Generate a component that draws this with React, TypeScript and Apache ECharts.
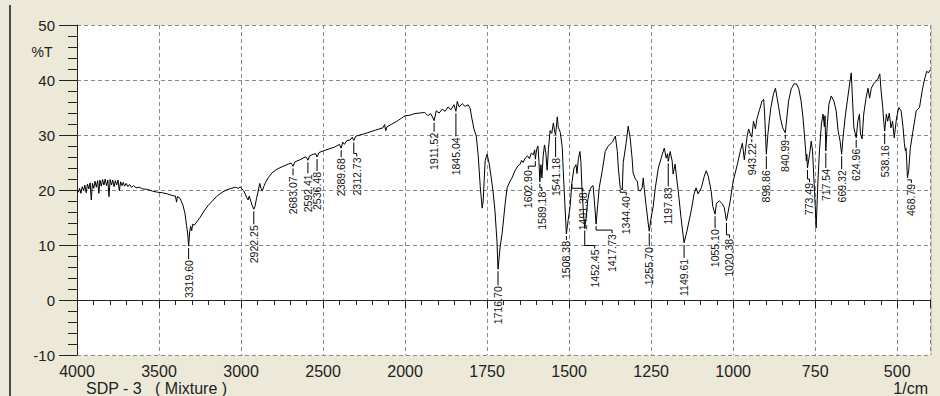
import React, { useEffect, useRef } from "react";
import * as echarts from "echarts";

// IR spectrum of SDP-3 (mixture): [wavenumber (1/cm), transmittance (%T)]
const range4000to3000: [number, number][] = [
  [4000, 20.0], [3992, 19.6], [3984, 20.3], [3976, 19.4], [3968, 20.6], [3960, 19.9],
  [3952, 20.9], [3944, 19.5], [3936, 21.1], [3928, 20.2], [3920, 21.3], [3913, 18.2],
  [3906, 21.2], [3898, 20.3], [3890, 21.6], [3882, 20.5], [3874, 21.7], [3867, 19.4],
  [3860, 21.8], [3852, 20.7], [3844, 21.9], [3836, 20.9], [3828, 22.0], [3820, 20.8],
  [3812, 21.8], [3805, 18.8], [3798, 21.9], [3790, 20.9], [3782, 21.8], [3774, 20.6],
  [3766, 21.7], [3758, 20.9], [3750, 21.8], [3742, 19.9], [3734, 21.5], [3726, 20.8],
  [3718, 21.4], [3710, 20.7], [3700, 21.2], [3690, 20.6], [3680, 21.0], [3668, 20.5],
  [3655, 20.8], [3640, 20.4], [3620, 20.5], [3600, 20.2], [3570, 20.1], [3540, 19.8],
  [3510, 19.6], [3480, 19.5], [3450, 19.3], [3420, 19.0], [3400, 18.9], [3393, 17.8],
  [3388, 18.8], [3372, 18.5], [3355, 17.3], [3342, 15.8], [3332, 13.5], [3325, 12.0],
  [3319.6, 9.8], [3313, 12.4], [3307, 13.4], [3301, 12.6], [3294, 13.8], [3285, 13.6],
  [3270, 14.2], [3250, 15.0], [3225, 16.2], [3200, 17.2], [3175, 18.0], [3150, 18.8],
  [3120, 19.5], [3090, 20.0], [3060, 20.3], [3035, 20.5], [3015, 20.3], [3005, 20.6],
];

const range3000to2000: [number, number][] = [
  [2995, 20.2], [2985, 19.9], [2975, 19.3], [2965, 18.6], [2957, 18.2], [2950, 18.9],
  [2940, 17.9], [2932, 17.2], [2922.25, 16.5], [2915, 17.0], [2906, 18.4], [2897, 19.6],
  [2886, 21.2], [2878, 20.3], [2870, 19.8], [2862, 20.6], [2850, 21.4], [2835, 22.2],
  [2812, 23.1], [2780, 23.8], [2745, 24.3], [2713, 24.7], [2695, 24.9], [2683.07, 24.3],
  [2672, 25.1], [2640, 25.5], [2610, 26.0], [2600, 25.9], [2592.41, 25.4], [2582, 26.2],
  [2560, 26.5], [2545, 26.6], [2536.48, 26.0], [2525, 26.8], [2500, 27.1], [2470, 27.4],
  [2430, 27.8], [2400, 28.3], [2389.68, 27.6], [2380, 28.7], [2370, 28.3], [2355, 29.0],
  [2335, 29.1], [2322, 29.6], [2312.73, 29.0], [2300, 29.8], [2275, 30.0], [2230, 30.4],
  [2180, 30.9], [2135, 31.3], [2125, 31.9], [2118, 30.8], [2110, 31.5], [2080, 32.0],
  [2050, 32.5], [2030, 32.9], [2010, 33.3],
];

const range2000to1500: [number, number][] = [
  [2000, 33.5], [1985, 33.6], [1970, 33.9], [1954, 34.0], [1940, 34.1], [1930, 33.5],
  [1922, 33.9], [1915, 33.1], [1911.52, 32.6], [1905, 34.4], [1896, 34.0], [1887, 34.7],
  [1878, 34.3], [1869, 35.1], [1860, 34.6], [1851, 35.5], [1845.04, 34.3], [1841, 36.1],
  [1835, 35.1], [1826, 35.7], [1817, 35.2], [1808, 35.5], [1802, 34.9], [1796, 32.9],
  [1790, 31.1], [1783, 29.8], [1777, 26.2], [1771, 20.7], [1765, 16.7], [1762, 18.0],
  [1756, 25.3], [1750, 26.5], [1744, 24.9], [1738, 22.5], [1732, 19.8], [1726, 16.2],
  [1720, 10.7], [1716.7, 5.6], [1710, 9.8], [1704, 12.2], [1695, 17.5], [1689, 20.4],
  [1680, 21.6], [1674, 22.2], [1665, 23.5], [1656, 24.4], [1649, 24.7], [1645, 25.4],
  [1640, 25.0], [1634, 25.8], [1627, 26.2], [1621, 25.7], [1615, 26.7], [1609, 26.4],
  [1605, 27.3], [1602.9, 25.6], [1599, 27.4], [1595, 28.0], [1592, 25.2], [1589.18, 21.5],
  [1586, 24.6], [1583, 22.2], [1579, 26.2], [1575, 28.2], [1571, 26.8], [1567, 23.6],
  [1563, 27.4], [1558, 30.8], [1553, 30.3], [1548, 32.2], [1544, 30.6], [1541.18, 30.0],
  [1536, 33.3], [1533, 31.4], [1527, 30.5], [1521, 27.8], [1518, 23.6], [1513, 17.5],
  [1508.38, 12.0], [1503, 14.5],
];

const range1500to1000: [number, number][] = [
  [1497, 17.0], [1491.38, 21.4], [1485, 24.0], [1479, 24.6], [1476, 23.0], [1472, 25.6],
  [1467, 27.0], [1464, 25.0], [1461, 20.5], [1456, 15.5], [1452.45, 13.0], [1448, 15.0],
  [1443, 18.2], [1438, 19.8], [1432, 20.6], [1427, 20.8], [1423, 18.0], [1417.73, 13.8],
  [1413, 17.2], [1408, 20.5], [1399, 23.5], [1390, 27.0], [1381, 28.0], [1368, 28.7],
  [1359, 29.8], [1353, 27.0], [1350, 24.0], [1344.4, 20.5], [1338, 20.0], [1335, 25.0],
  [1326, 28.6], [1320, 31.6], [1314, 29.5], [1308, 25.8], [1305, 23.1], [1298, 22.0],
  [1292, 21.6], [1289, 20.0], [1283, 19.8], [1277, 20.5], [1274, 22.2], [1271, 20.2],
  [1265, 17.0], [1259, 14.0], [1255.7, 12.5], [1250, 15.0], [1244, 16.9], [1237, 20.5],
  [1228, 24.0], [1216, 26.5], [1210, 27.6], [1204, 25.8], [1200, 26.6], [1197.83, 25.2],
  [1192, 27.0], [1186, 25.3], [1183, 22.9], [1177, 24.7], [1171, 21.6], [1165, 18.5],
  [1159, 15.0], [1153, 12.0], [1149.61, 10.4], [1141, 12.5], [1128, 16.2], [1119, 19.3],
  [1113, 20.4], [1107, 19.3], [1097, 20.4], [1088, 22.5], [1082, 23.5], [1076, 22.5],
  [1067, 19.8], [1062, 17.0], [1055.1, 15.6], [1051, 17.6], [1042, 18.0], [1033, 17.5],
  [1027, 16.8], [1020.38, 14.4], [1009, 18.0],
];

const range1000to400: [number, number][] = [
  [1000, 21.6], [987, 24.7], [978, 27.1], [972, 28.5], [969, 27.1], [966, 25.5],
  [958, 29.5], [953, 31.1], [948, 30.2], [943.22, 29.6], [938, 32.5], [932, 31.1],
  [927, 33.1], [919, 34.7], [912, 36.2], [907, 36.5], [904, 33.8], [901, 29.5],
  [898.86, 26.5], [894, 30.2], [890, 32.5], [885, 35.0], [877, 37.5], [871, 38.5],
  [866, 36.7], [861, 35.0], [856, 33.1], [849, 31.3], [840.99, 30.4], [838, 32.2],
  [831, 36.2], [823, 38.4], [814, 39.3], [807, 39.3], [800, 38.4], [793, 36.2],
  [787, 33.1], [783, 30.2], [779, 27.1], [777, 25.3], [775.5, 26.5], [773.49, 24.0],
  [767, 26.5], [762, 28.9], [758, 27.1], [752, 19.8], [747, 13.1], [742, 21.1],
  [737, 27.1], [731, 32.0], [726, 33.8], [722, 31.5], [720, 33.5], [717.54, 27.1],
  [713, 32.0], [708, 35.6], [701, 37.1], [693, 36.2], [686, 34.4], [680, 30.7],
  [674, 28.9], [669.32, 26.5], [665, 29.5], [659, 33.1], [652, 36.2], [645, 39.3],
  [640, 41.3], [637, 37.5], [632, 31.3], [624.96, 29.5], [620, 32.5], [615, 33.8],
  [612, 30.2], [607, 29.3], [602, 33.8], [595, 36.7], [589, 38.5], [584, 36.7],
  [579, 38.5], [572, 39.3], [564, 39.8], [559, 40.2], [553, 41.1], [549, 38.0],
  [544, 35.0], [541, 32.5], [538.16, 30.7], [533, 33.8], [529, 32.5], [524, 34.0],
  [519, 31.3], [514, 32.5], [509, 29.5], [502, 33.1], [495, 35.0], [488, 34.4],
  [482, 31.3], [478, 28.4], [475, 27.1], [473, 27.6], [471, 25.3], [468.79, 22.2],
  [465, 23.5], [460, 27.6], [452, 30.7], [442, 34.4], [432, 35.0], [424, 38.0],
  [418, 39.8], [410, 41.6], [405, 41.3], [400, 41.8],
];

// Picked peaks (1/cm)
const peakWavenumbers = [
  3319.6, 2922.25, 2683.07, 2592.41, 2536.48, 2389.68, 2312.73, 1911.52, 1845.04,
  1716.7, 1602.9, 1589.18, 1541.18, 1508.38, 1491.38, 1452.45, 1417.73, 1344.4,
  1255.7, 1197.83, 1149.61, 1055.1, 1020.38, 943.22, 898.86, 840.99, 773.49,
  717.54, 669.32, 624.96, 538.16, 468.79,
];

// Leader length and sideways shift (px) of each peak label
const peakLabelLayout: [number, number][] = [
  [13, 0], [15, 0], [9, 0], [13, 0], [14, 0], [9, 0], [16, 3], [11, 0], [25, 0],
  [16, 0], [10, -7], [9, 2], [22, 0], [6, 0], [9, 11], [20, 10], [9, 16], [8, 6],
  [15, 0], [25, 0], [15, 0], [14, 0], [17, 3], [5, 0], [15, 0], [6, 0], [14, 2],
  [17, 0], [15, 0], [10, 0], [13, 0], [5, 4],
];

const yTicks = { min: -10, max: 50, step: 10 };

// Wavenumber axis: 4000–2000 drawn at half the scale of 2000–400
const toAxis = (w: number) => (w >= 2000 ? (4000 - w) / 2 : 1000 + (2000 - w));
const fromAxis = (u: number) => (u <= 1000 ? 4000 - 2 * u : 2000 - (u - 1000));

const FONT = '"Liberation Sans", Arial, sans-serif';

export default function App() {
  const ref = useRef<HTMLDivElement>(null);

  useEffect(() => {
    if (!ref.current) return;
    const chart = echarts.init(ref.current, undefined, { renderer: "svg" });

    const spectrum = [
      ...range4000to3000,
      ...range3000to2000,
      ...range2000to1500,
      ...range1500to1000,
      ...range1000to400,
    ];
    const lineData = spectrum.map(([w, t]) => [toAxis(w), t]);
    const lookup = new Map(spectrum.map(([w, t]) => [w, t]));
    const peakData = peakWavenumbers.map((w) => [toAxis(w), lookup.get(w) ?? 0]);
    const peakText = peakWavenumbers.map((w) => w.toFixed(2));

    chart.setOption({
      animation: false,
      backgroundColor: "#ECE9D8",
      grid: {
        left: 77,
        right: 10,
        top: 25,
        bottom: 41,
        show: true,
        backgroundColor: "#ffffff",
        borderWidth: 0,
      },
      xAxis: {
        type: "value",
        min: 0,
        max: 2600,
        interval: 250,
        axisLine: { show: true, lineStyle: { color: "#222", width: 1 } },
        axisTick: { show: true, length: 8, lineStyle: { color: "#222" } },
        minorTick: { show: true, splitNumber: 5, length: 5, lineStyle: { color: "#222" } },
        axisLabel: {
          color: "#222",
          fontSize: 16,
          lineHeight: 13,
          fontFamily: FONT,
          margin: 10,
          showMaxLabel: false,
          formatter: (v: number) => (v >= 2600 ? "" : String(Math.round(fromAxis(v)))),
        },
        splitLine: {
          show: true,
          lineStyle: { color: "#8a8a8a", type: [4, 3], width: 1 },
        },
      },
      yAxis: {
        type: "value",
        min: yTicks.min,
        max: yTicks.max,
        interval: yTicks.step,
        axisLine: { show: true, lineStyle: { color: "#222", width: 1 } },
        axisTick: { show: true, length: 18, lineStyle: { color: "#222" } },
        minorTick: { show: true, splitNumber: 5, length: 9, lineStyle: { color: "#222" } },
        axisLabel: { color: "#222", fontSize: 15, fontFamily: FONT, margin: 22 },
        splitLine: {
          show: true,
          lineStyle: { color: "#8a8a8a", type: [4, 3], width: 1 },
        },
      },
      series: [
        {
          type: "line",
          data: lineData,
          showSymbol: false,
          symbol: "none",
          silent: true,
          lineStyle: { color: "#000", width: 1 },
          z: 3,
        },
        {
          type: "custom",
          coordinateSystem: "cartesian2d",
          data: peakData,
          silent: true,
          z: 4,
          renderItem: (params: any, api: any) => {
            const i = params.dataIndex;
            const [x, y] = api.coord([api.value(0), api.value(1)]);
            const [len, dx] = peakLabelLayout[i];
            const top = y + len;
            const pts =
              dx === 0
                ? [[x, y + 2], [x, top]]
                : [[x, y + 2], [x, top - 3], [x + dx, top - 3], [x + dx, top]];
            return {
              type: "group",
              children: [
                {
                  type: "polyline",
                  shape: { points: pts },
                  style: { stroke: "#000", lineWidth: 1, fill: null },
                },
                {
                  type: "text",
                  x: x + dx,
                  y: top + 1,
                  rotation: Math.PI / 2,
                  style: {
                    text: peakText[i],
                    fill: "#111",
                    font: `10.5px ${FONT}`,
                    align: "right",
                    verticalAlign: "middle",
                  },
                },
              ],
            };
          },
        },
      ],
      graphic: [
        {
          type: "line",
          shape: { x1: 10, y1: 5, x2: 10, y2: 396 },
          style: { stroke: "#4a4a4a", lineWidth: 2 },
          silent: true,
        },
        {
          type: "line",
          shape: { x1: 931.5, y1: 25, x2: 931.5, y2: 355 },
          style: { stroke: "#c4c4c4", lineWidth: 1 },
          silent: true,
        },
        {
          type: "text",
          x: 42,
          y: 52,
          style: {
            text: "%T",
            fill: "#222",
            font: `14px ${FONT}`,
            align: "center",
            verticalAlign: "middle",
          },
        },
        {
          type: "text",
          x: 86,
          y: 388,
          style: {
            text: "SDP - 3   ( Mixture )",
            fill: "#222",
            font: `16px ${FONT}`,
            lineHeight: 13,
            align: "left",
            verticalAlign: "middle",
          },
        },
        {
          type: "text",
          x: 928,
          y: 388,
          style: {
            text: "1/cm",
            fill: "#222",
            font: `16px ${FONT}`,
            lineHeight: 13,
            align: "right",
            verticalAlign: "middle",
          },
        },
      ],
    });

    return () => chart.dispose();
  }, []);

  return (
    <div
      ref={ref}
      style={{ position: "fixed", left: 0, top: 0, width: 940, height: 396 }}
    />
  );
}
